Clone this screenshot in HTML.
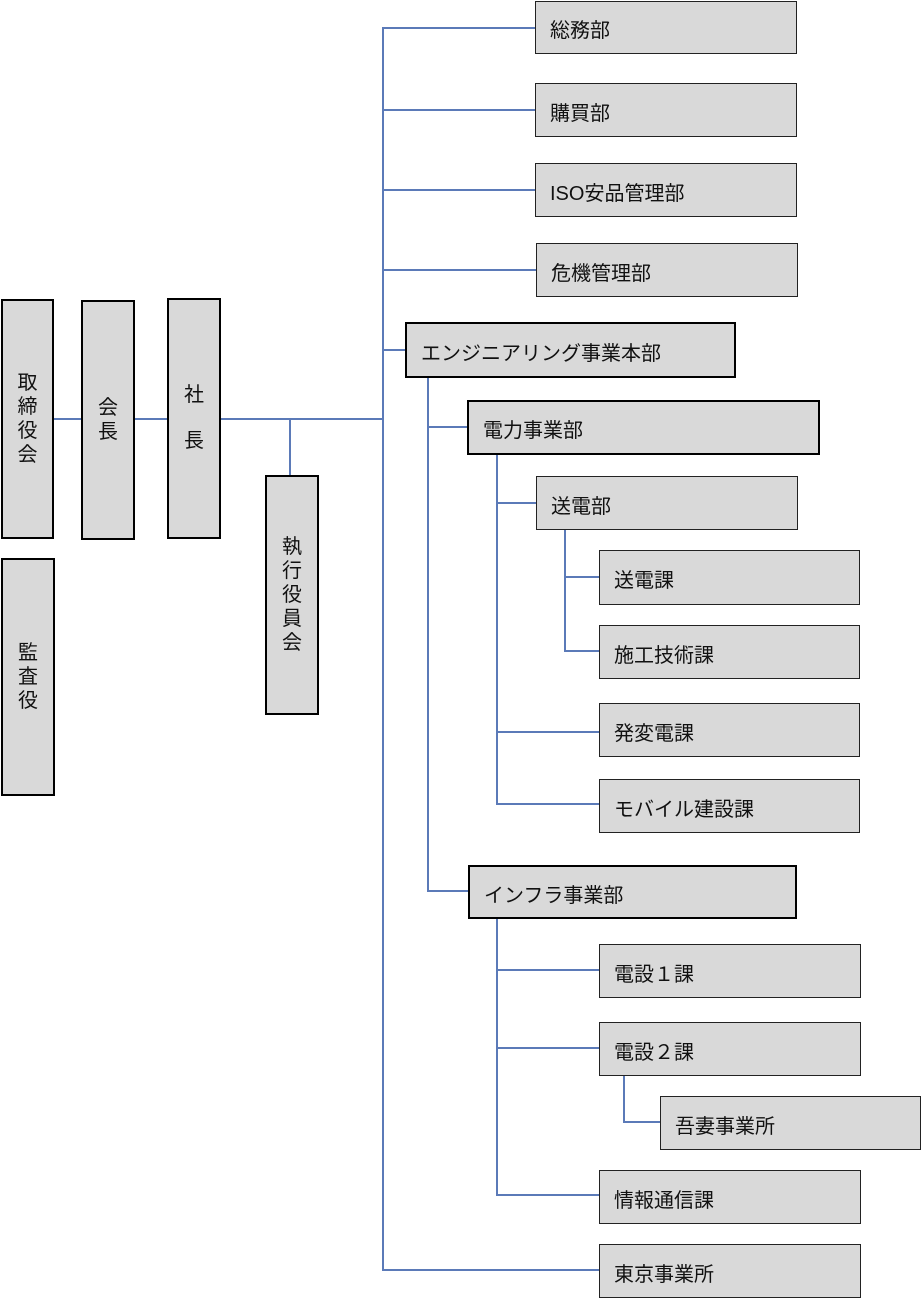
<!DOCTYPE html>
<html><head><meta charset="utf-8"><style>
body{margin:0;width:921px;height:1298px;background:#fff;position:relative;overflow:hidden;font-family:"Liberation Sans","Noto Sans CJK JP",sans-serif;color:#111}
.b{position:absolute;box-sizing:border-box;background:#d9d9d9;border:1px solid #222;font-size:20px;display:flex;align-items:center;padding-left:14px;padding-top:2px}
.t{border:2px solid #000}
.v{flex-direction:column;justify-content:center;padding:0;line-height:24px;font-size:20px}
.l{position:absolute;background:#5b7ab8}
</style></head><body>
<div class="l" style="left:53px;top:418px;width:330px;height:2px"></div>
<div class="l" style="left:289px;top:418px;width:2px;height:58px"></div>
<div class="l" style="left:382px;top:27px;width:2px;height:1244px"></div>
<div class="l" style="left:383px;top:27px;width:152px;height:2px"></div>
<div class="l" style="left:383px;top:109px;width:152px;height:2px"></div>
<div class="l" style="left:383px;top:189px;width:152px;height:2px"></div>
<div class="l" style="left:383px;top:269px;width:153px;height:2px"></div>
<div class="l" style="left:383px;top:349px;width:22px;height:2px"></div>
<div class="l" style="left:383px;top:1269px;width:216px;height:2px"></div>
<div class="l" style="left:427px;top:377px;width:2px;height:515px"></div>
<div class="l" style="left:427px;top:426px;width:40px;height:2px"></div>
<div class="l" style="left:427px;top:890px;width:41px;height:2px"></div>
<div class="l" style="left:496px;top:454px;width:2px;height:351px"></div>
<div class="l" style="left:496px;top:502px;width:40px;height:2px"></div>
<div class="l" style="left:496px;top:731px;width:103px;height:2px"></div>
<div class="l" style="left:496px;top:803px;width:103px;height:2px"></div>
<div class="l" style="left:564px;top:529px;width:2px;height:123px"></div>
<div class="l" style="left:564px;top:576px;width:35px;height:2px"></div>
<div class="l" style="left:564px;top:650px;width:35px;height:2px"></div>
<div class="l" style="left:496px;top:918px;width:2px;height:278px"></div>
<div class="l" style="left:496px;top:969px;width:103px;height:2px"></div>
<div class="l" style="left:496px;top:1047px;width:103px;height:2px"></div>
<div class="l" style="left:496px;top:1194px;width:103px;height:2px"></div>
<div class="l" style="left:623px;top:1075px;width:2px;height:48px"></div>
<div class="l" style="left:623px;top:1121px;width:37px;height:2px"></div>
<div class="b t v" style="left:1px;top:299px;width:53px;height:240px"><span>取</span><span>締</span><span>役</span><span>会</span></div>
<div class="b t v" style="left:81px;top:300px;width:54px;height:240px"><span>会</span><span>長</span></div>
<div class="b t v" style="left:167px;top:298px;width:54px;height:241px;line-height:23px"><span>社</span><span>&nbsp;</span><span>長</span></div>
<div class="b t v" style="left:1px;top:558px;width:54px;height:238px"><span>監</span><span>査</span><span>役</span></div>
<div class="b t v" style="left:265px;top:475px;width:54px;height:240px"><span>執</span><span>行</span><span>役</span><span>員</span><span>会</span></div>
<div class="b" style="left:535px;top:1px;width:262px;height:53px">総務部</div>
<div class="b" style="left:535px;top:83px;width:262px;height:54px">購買部</div>
<div class="b" style="left:535px;top:163px;width:262px;height:54px">ISO安品管理部</div>
<div class="b" style="left:536px;top:243px;width:262px;height:54px">危機管理部</div>
<div class="b t" style="left:405px;top:322px;width:331px;height:56px">エンジニアリング事業本部</div>
<div class="b t" style="left:467px;top:400px;width:353px;height:55px">電力事業部</div>
<div class="b" style="left:536px;top:476px;width:262px;height:54px">送電部</div>
<div class="b" style="left:599px;top:550px;width:261px;height:55px">送電課</div>
<div class="b" style="left:599px;top:625px;width:261px;height:54px">施工技術課</div>
<div class="b" style="left:599px;top:703px;width:261px;height:54px">発変電課</div>
<div class="b" style="left:599px;top:779px;width:261px;height:54px">モバイル建設課</div>
<div class="b t" style="left:468px;top:865px;width:329px;height:54px">インフラ事業部</div>
<div class="b" style="left:599px;top:944px;width:262px;height:54px">電設１課</div>
<div class="b" style="left:599px;top:1022px;width:262px;height:54px">電設２課</div>
<div class="b" style="left:660px;top:1096px;width:261px;height:54px">吾妻事業所</div>
<div class="b" style="left:599px;top:1170px;width:262px;height:54px">情報通信課</div>
<div class="b" style="left:599px;top:1244px;width:262px;height:54px">東京事業所</div>
</body></html>
